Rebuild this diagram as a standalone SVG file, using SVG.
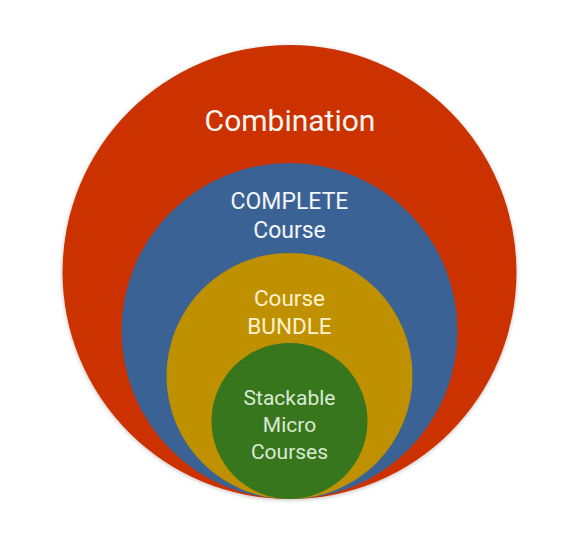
<svg xmlns="http://www.w3.org/2000/svg" width="585" height="547" viewBox="0 0 585 547">
  <defs>
    <filter id="soft" x="-10%" y="-10%" width="120%" height="120%">
      <feGaussianBlur in="SourceAlpha" stdDeviation="2"/>
      <feOffset dx="0" dy="1" result="b"/>
      <feComponentTransfer><feFuncA type="linear" slope="0.25"/></feComponentTransfer>
      <feMerge><feMergeNode/><feMergeNode in="SourceGraphic"/></feMerge>
    </filter>
  </defs>
  <style>
    text { font-family: Roboto, "Liberation Sans", sans-serif; text-anchor: middle; }
    .big { font-size: 30px; fill: #fdf6ef; }
    .mid { font-size: 23px; }
    .bun { font-size: 22.5px; }
    .small { font-size: 21px; }
  </style>
  <rect width="585" height="547" fill="#ffffff"/>
  <g id="combination">
    <circle cx="289.5" cy="272" r="227" fill="#cc3300" filter="url(#soft)"/>
    <text class="big" x="290" y="131">Combination</text>
  </g>
  <g id="complete">
    <circle cx="289.5" cy="331" r="168" fill="#3b6295"/>
    <text class="mid" x="289.5" y="209" fill="#f3f6fb">COMPLETE</text>
    <text class="mid" x="289.5" y="238" fill="#f3f6fb">Course</text>
  </g>
  <g id="bundle">
    <circle cx="289.5" cy="376" r="123" fill="#bf9000"/>
    <text class="bun" x="289.5" y="306" fill="#fff2cc">Course</text>
    <text class="bun" x="289.5" y="334" fill="#fff2cc">BUNDLE</text>
  </g>
  <g id="micro">
    <circle cx="289.5" cy="421" r="78" fill="#38761d"/>
    <text class="small" x="289.5" y="405" fill="#d9ead3">Stackable</text>
    <text class="small" x="289.5" y="432" fill="#d9ead3">Micro</text>
    <text class="small" x="289.5" y="459" fill="#d9ead3">Courses</text>
  </g>
  <g id="connectors"></g>
</svg>
